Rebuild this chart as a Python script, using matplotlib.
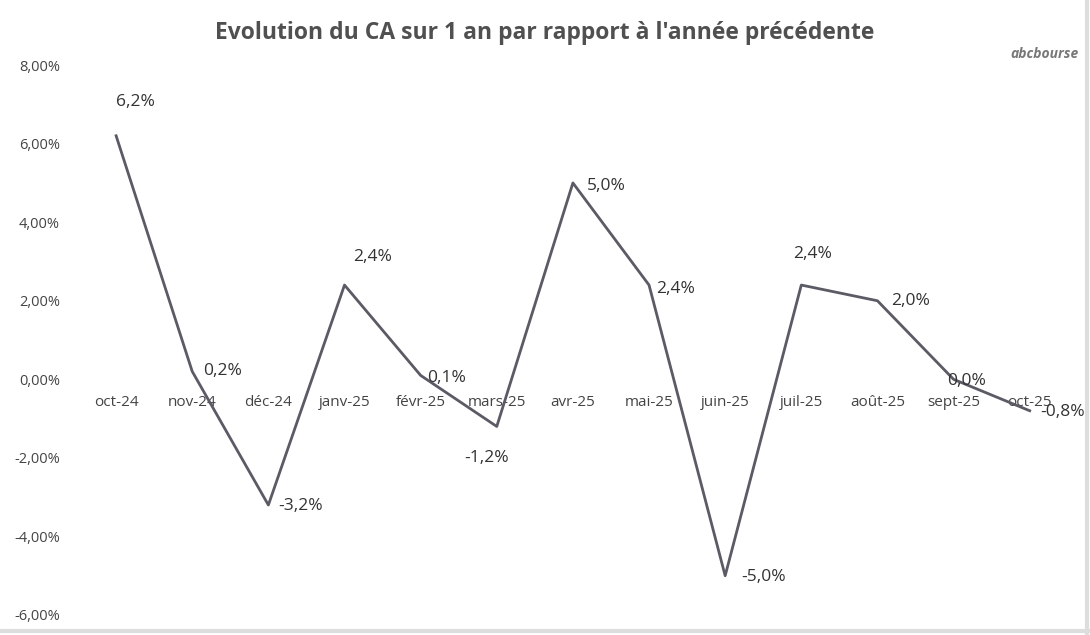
import matplotlib.pyplot as plt
from matplotlib.ticker import FuncFormatter

# Data
mois = ["oct-24", "nov-24", "déc-24", "janv-25", "févr-25", "mars-25", "avr-25",
        "mai-25", "juin-25", "juil-25", "août-25", "sept-25", "oct-25"]
evolution = [6.2, 0.2, -3.2, 2.4, 0.1, -1.2, 5.0, 2.4, -5.0, 2.4, 2.0, 0.0, -0.8]
# label offsets (points) for each data label
label_offsets = [(14, 24), (22, 0), (23, -1), (20, 20), (19, -2), (-7, -23), (24, -2),
                 (19, -3), (28, -1), (8, 22), (24, 0), (9, -1), (24, -1)]

plt.rcParams['font.family'] = ['Open Sans', 'DejaVu Sans']

fig = plt.figure(figsize=(10.9, 6.35), dpi=100)
ax = fig.add_axes([0.0716, 0.0315, 0.908, 0.866])

x = list(range(len(mois)))
ax.plot(x, evolution, color='#5b5b66', linewidth=2.0)

for xi, v, off in zip(x, evolution, label_offsets):
    txt = f"{v:.1f}%".replace('.', ',')
    ax.annotate(txt, (xi, v), xytext=off, textcoords='offset points',
                ha='center', va='center', fontsize=12.5, color='#333333')

ax.set_xlim(-0.5, len(mois) - 0.5)
ax.set_ylim(-6, 8)
ax.set_yticks(range(-6, 9, 2))
ax.yaxis.set_major_formatter(FuncFormatter(lambda v, p: f"{v:.2f}%".replace('.', ',')))
ax.set_xticks(x)
ax.set_xticklabels(mois)

ax.spines['bottom'].set_position(('data', 0))
for s in ax.spines.values():
    s.set_visible(False)
ax.tick_params(axis='x', length=0, pad=11, labelsize=11, labelcolor='#444444')
ax.tick_params(axis='y', length=0, pad=13, labelsize=10.5, labelcolor='#444444')

fig.text(0.5, 0.948, "Evolution du CA sur 1 an par rapport à l'année précédente",
         ha='center', va='center', fontsize=16.5, fontweight='bold', color='#505050')
fig.text(0.99, 0.915, "abcbourse", ha='right', va='center', fontsize=10,
         fontstyle='italic', fontweight='bold', color='#777777')

# light frame at right and bottom
fig.add_artist(plt.Line2D([0, 1], [0.006, 0.006], color='#dddddd', linewidth=3, transform=fig.transFigure))
fig.add_artist(plt.Line2D([0.997, 0.997], [0, 1], color='#dddddd', linewidth=3, transform=fig.transFigure))

fig.savefig('out.png', dpi=100)
